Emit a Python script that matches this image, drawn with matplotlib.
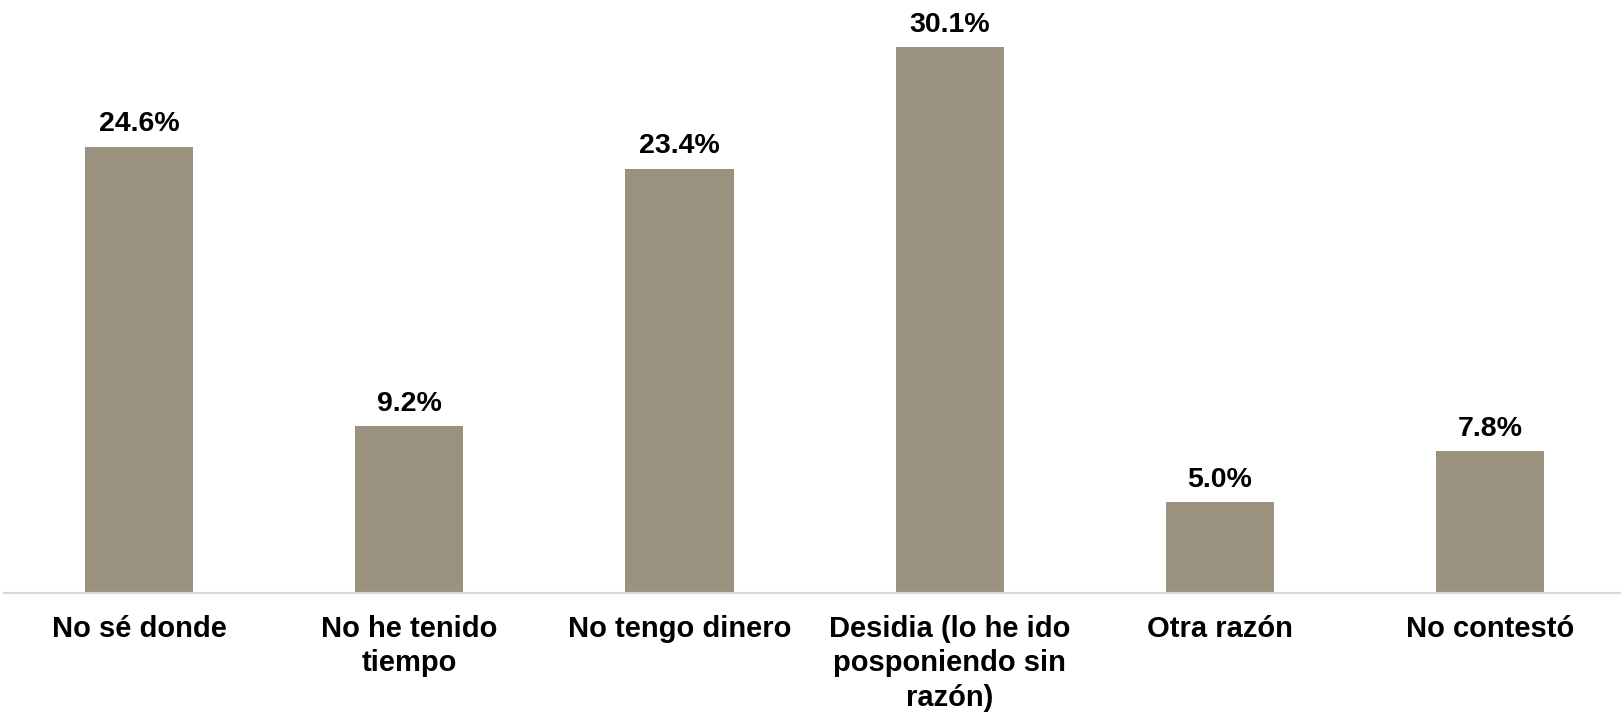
import matplotlib
matplotlib.use("Agg")
import matplotlib.pyplot as plt

categories = ["No sé donde", "No he tenido\ntiempo", "No tengo dinero",
              "Desidia (lo he ido\nposponiendo sin\nrazón)", "Otra razón", "No contestó"]
values = [24.6, 9.2, 23.4, 30.1, 5.0, 7.8]
labels = ["24.6%", "9.2%", "23.4%", "30.1%", "5.0%", "7.8%"]

plt.rcParams['font.family'] = ['Liberation Sans', 'DejaVu Sans']

fig = plt.figure(figsize=(16.21, 7.14), dpi=100)
ax = fig.add_axes([0.0025, 1 - 592.5 / 714, 1.0, 592.5 / 714])

x = list(range(len(values)))
bars = ax.bar(x, values, width=0.4, color="#9A917E", zorder=2)

for xi, v, lab in zip(x, values, labels):
    ax.annotate(lab, (xi, v), xytext=(0, 11), textcoords="offset points",
                ha="center", va="baseline", fontsize=20.5, fontweight="bold", color="black")

ax.set_xlim(-0.5, 5.5)
ax.set_ylim(0, 32.7)
ax.set_xticks(x)
ax.set_xticklabels(categories, fontsize=21, fontweight="bold", linespacing=1.3)
ax.tick_params(axis="x", length=0, pad=16)
ax.set_yticks([])
for s in ["top", "right", "left"]:
    ax.spines[s].set_visible(False)
ax.spines["bottom"].set_color("#D9D9D9")
ax.spines["bottom"].set_linewidth(1.6)

fig.savefig("out.png", dpi=100)
